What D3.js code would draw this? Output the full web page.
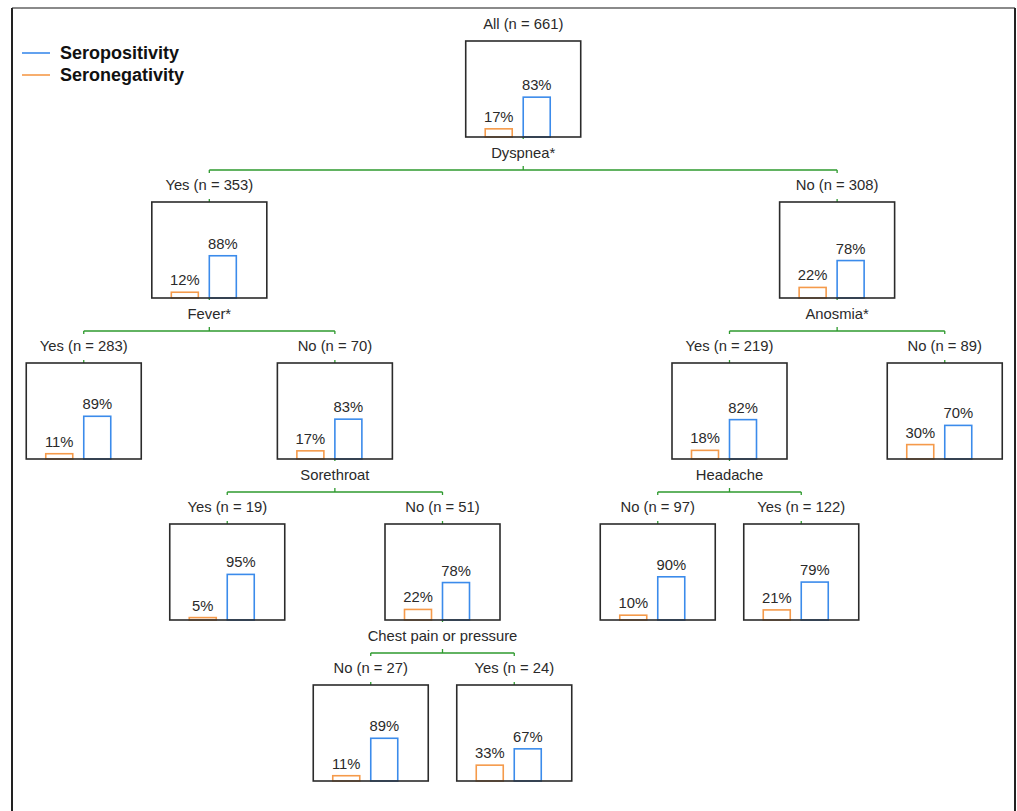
<!DOCTYPE html>
<html lang="en">
  <head>
    <meta charset="utf-8">
    <title>Seropositivity decision tree</title>
    <style>
      body{ margin:0; background:#fff; }
      text{ font-family: "Liberation Sans", Arial, sans-serif; fill:#2a2a2a; }
      .box{ fill:none; stroke:#2b2b2b; stroke-width:1.6; }
      .link{ stroke:#2e9a2e; stroke-width:1.3; fill:none; }
    </style>
    <script src="https://cdn.jsdelivr.net/npm/d3@7"></script>
  </head>
  <body>
  <svg width="1017" height="811"></svg>
    <script>
// tree data
var nodeLabels = ["All (n = 661)", "Yes (n = 353)", "No (n = 308)", "Yes (n = 283)", "No (n = 70)",
                  "Yes (n = 219)", "No (n = 89)", "Yes (n = 19)", "No (n = 51)", "No (n = 97)",
                  "Yes (n = 122)", "No (n = 27)", "Yes (n = 24)"];
var parents = [null, 0, 0, 1, 1, 2, 2, 4, 4, 5, 5, 8, 8];
var splitVars = ["Dyspnea*", "Fever*", "Anosmia*", "", "Sorethroat", "Headache", "", "", "Chest pain or pressure", "", "", "", ""];
var seropositive = [83, 88, 78, 89, 83, 82, 70, 95, 78, 90, 79, 89, 67];
var seronegative = [17, 12, 22, 11, 17, 18, 30, 5, 22, 10, 21, 11, 33];
var groups = ["Seronegativity", "Seropositivity"];
var colors = {"Seronegativity": "#f59a4a", "Seropositivity": "#3b8beb"};

var svg = d3.select("svg");
var boxW = 115, boxH = 96;
var fs = 14.8;

// outer frame
svg.append("line").attr("x1", 12).attr("x2", 1015).attr("y1", 8).attr("y2", 8)
   .attr("stroke", "#8a8a8a").attr("stroke-width", 2);
svg.append("line").attr("x1", 12).attr("x2", 12).attr("y1", 8).attr("y2", 811)
   .attr("stroke", "#222").attr("stroke-width", 2);
svg.append("line").attr("x1", 1015).attr("x2", 1015).attr("y1", 8).attr("y2", 811)
   .attr("stroke", "#222").attr("stroke-width", 2);

var table = nodeLabels.map(function(d, i){
  return {id: String(i), parent: parents[i] === null ? null : String(parents[i]),
          label: d, split: splitVars[i], pos: seropositive[i], neg: seronegative[i]};
});
var root = d3.stratify().id(function(d){ return d.id; }).parentId(function(d){ return d.parent; })(table);

// leaves evenly spaced, parents centred over children
d3.cluster().separation(function(){ return 1; }).size([1004.5, 1])(root);

var yTop = d3.scaleLinear().domain([0, 4]).range([41, 685]);
var xBar = d3.scaleBand().domain(groups).range([-38, 27]).paddingInner(11/38);
var hBar = d3.scaleLinear().domain([0, 100]).range([0, 48]);

var g = svg.append("g").attr("transform", "translate(12,0)");

// links
root.descendants().forEach(function(n){
  if (!n.children) return;
  var bottom = yTop(n.depth) + boxH;
  var ly = bottom + 33;
  var xs = n.children.map(function(c){ return c.x; });
  g.append("line").attr("class", "link").attr("x1", n.x).attr("x2", n.x).attr("y1", bottom).attr("y2", bottom + 2);
  g.append("line").attr("class", "link").attr("x1", n.x).attr("x2", n.x).attr("y1", ly - 4).attr("y2", ly);
  g.append("line").attr("class", "link").attr("x1", d3.min(xs)).attr("x2", d3.max(xs)).attr("y1", ly).attr("y2", ly);
  n.children.forEach(function(c){
    g.append("line").attr("class", "link").attr("x1", c.x).attr("x2", c.x).attr("y1", ly).attr("y2", ly + 3);
    g.append("line").attr("class", "link").attr("x1", c.x).attr("x2", c.x).attr("y1", yTop(c.depth) - 3).attr("y2", yTop(c.depth));
  });
  g.append("text").attr("x", n.x).attr("y", bottom + 21).attr("text-anchor", "middle")
   .attr("font-size", fs).text(n.data.split);
});

// nodes
var node = g.selectAll(".node").data(root.descendants()).enter().append("g")
  .attr("class", "node")
  .attr("transform", function(d){ return "translate(" + d.x + "," + yTop(d.depth) + ")"; });

node.append("text").attr("x", 0).attr("y", -12).attr("text-anchor", "middle")
  .attr("font-size", fs).text(function(d){ return d.data.label; });

node.each(function(d){
  var sel = d3.select(this);
  var vals = [{k: "Seronegativity", v: d.data.neg}, {k: "Seropositivity", v: d.data.pos}];
  sel.selectAll(".bar").data(vals).enter().append("rect")
    .attr("class", "bar")
    .attr("x", function(b){ return xBar(b.k); })
    .attr("width", xBar.bandwidth())
    .attr("y", function(b){ return boxH - hBar(b.v); })
    .attr("height", function(b){ return hBar(b.v); })
    .attr("fill", "#fff")
    .attr("stroke", function(b){ return colors[b.k]; })
    .attr("stroke-width", 1.6);
  sel.selectAll(".pct").data(vals).enter().append("text")
    .attr("class", "pct")
    .attr("x", function(b){ return xBar(b.k) + xBar.bandwidth()/2; })
    .attr("y", function(b){ return boxH - hBar(b.v) - 7; })
    .attr("text-anchor", "middle").attr("font-size", fs)
    .text(function(b){ return b.v + "%"; });
});

node.append("rect").attr("class", "box")
  .attr("x", -boxW/2).attr("y", 0).attr("width", boxW).attr("height", boxH);

// legend
var legend = svg.append("g").attr("transform", "translate(22,53)");
["Seropositivity", "Seronegativity"].forEach(function(k, i){
  legend.append("line").attr("x1", 0).attr("x2", 28).attr("y1", i*22).attr("y2", i*22)
    .attr("stroke", colors[k]).attr("stroke-width", 1.6);
  legend.append("text").attr("x", 38).attr("y", i*22 + 6).attr("font-size", 18)
    .attr("font-weight", "bold").style("fill", "#111").text(k);
});

    </script>
  </body>
</html>
